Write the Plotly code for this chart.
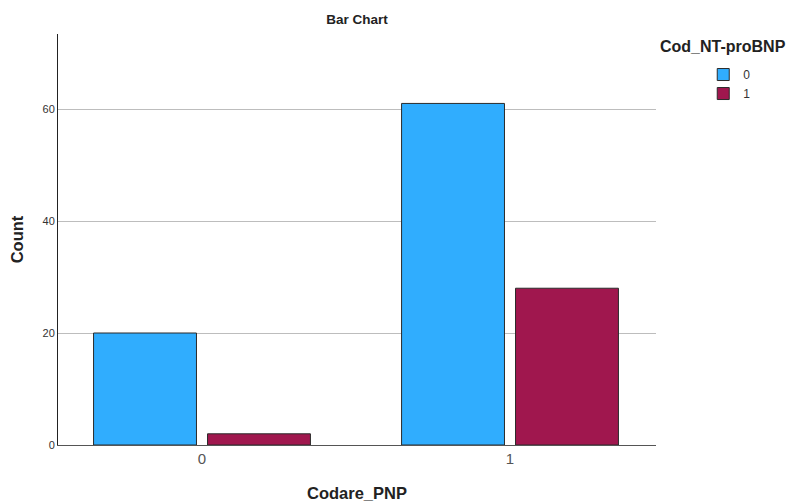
import plotly.graph_objects as go

categories = ["0", "1"]
series_names = ["0", "1"]
values_0 = [20, 2]
values_1 = [61, 28]
y_ticks = [0, 20, 40, 60]

colors = ["#30adfe", "#a0174e"]
FONT = "Liberation Sans, Arial, sans-serif"

x_pos = list(range(len(categories)))
fig = go.Figure()
for name, vals, col in zip(series_names, [[values_0[0], values_1[0]], [values_0[1], values_1[1]]], colors):
    fig.add_trace(go.Bar(
        x=x_pos, y=vals, name=name,
        marker=dict(color=col, line=dict(color="#2b2b2b", width=1)),
    ))

fig.update_layout(
    width=796, height=503,
    margin=dict(l=50, r=148, t=26, b=66),
    paper_bgcolor="white", plot_bgcolor="white",
    barmode="group", bargap=0.26, bargroupgap=0.097,
    title=dict(text="<b>Bar Chart</b>", x=0.4385, xanchor="center", y=0.978, yanchor="middle",
               font=dict(family=FONT, size=13.5, color="#222")),
    font=dict(family=FONT),
    showlegend=True,
    legend=dict(x=1.079, xanchor="left", y=0.9367, yanchor="top",
                font=dict(family=FONT, size=12, color="#333"),
                itemwidth=30, tracegroupgap=0, bgcolor="rgba(0,0,0,0)"),
    annotations=[dict(text="<b>Cod_NT-proBNP</b>", xref="paper", yref="paper",
                      x=1.003, y=1.0, xanchor="left", yanchor="middle", yshift=-12,
                      showarrow=False, font=dict(family=FONT, size=16, color="#222"))],
)

fig.update_xaxes(
    range=[-0.4675, 1.474], tickvals=x_pos, ticktext=categories, automargin=False,
    showline=True, linecolor="#555", linewidth=1, showgrid=False, zeroline=False,
    ticks="", tickfont=dict(family=FONT, size=15, color="#555"),
    title=dict(text="<b>Codare_PNP</b>", font=dict(family=FONT, size=16.5, color="#222"), standoff=21),
)
fig.update_yaxes(
    range=[0, 73.4], tickvals=y_ticks, automargin=False,
    showline=True, linecolor="#222", linewidth=1, showgrid=True, gridcolor="#bdbdbd",
    zeroline=False, ticks="", tickfont=dict(family=FONT, size=11, color="#333"),
    title=dict(text="<b>Count</b>", font=dict(family=FONT, size=16.5, color="#222"), standoff=15),
)

fig.write_html("out.html")
